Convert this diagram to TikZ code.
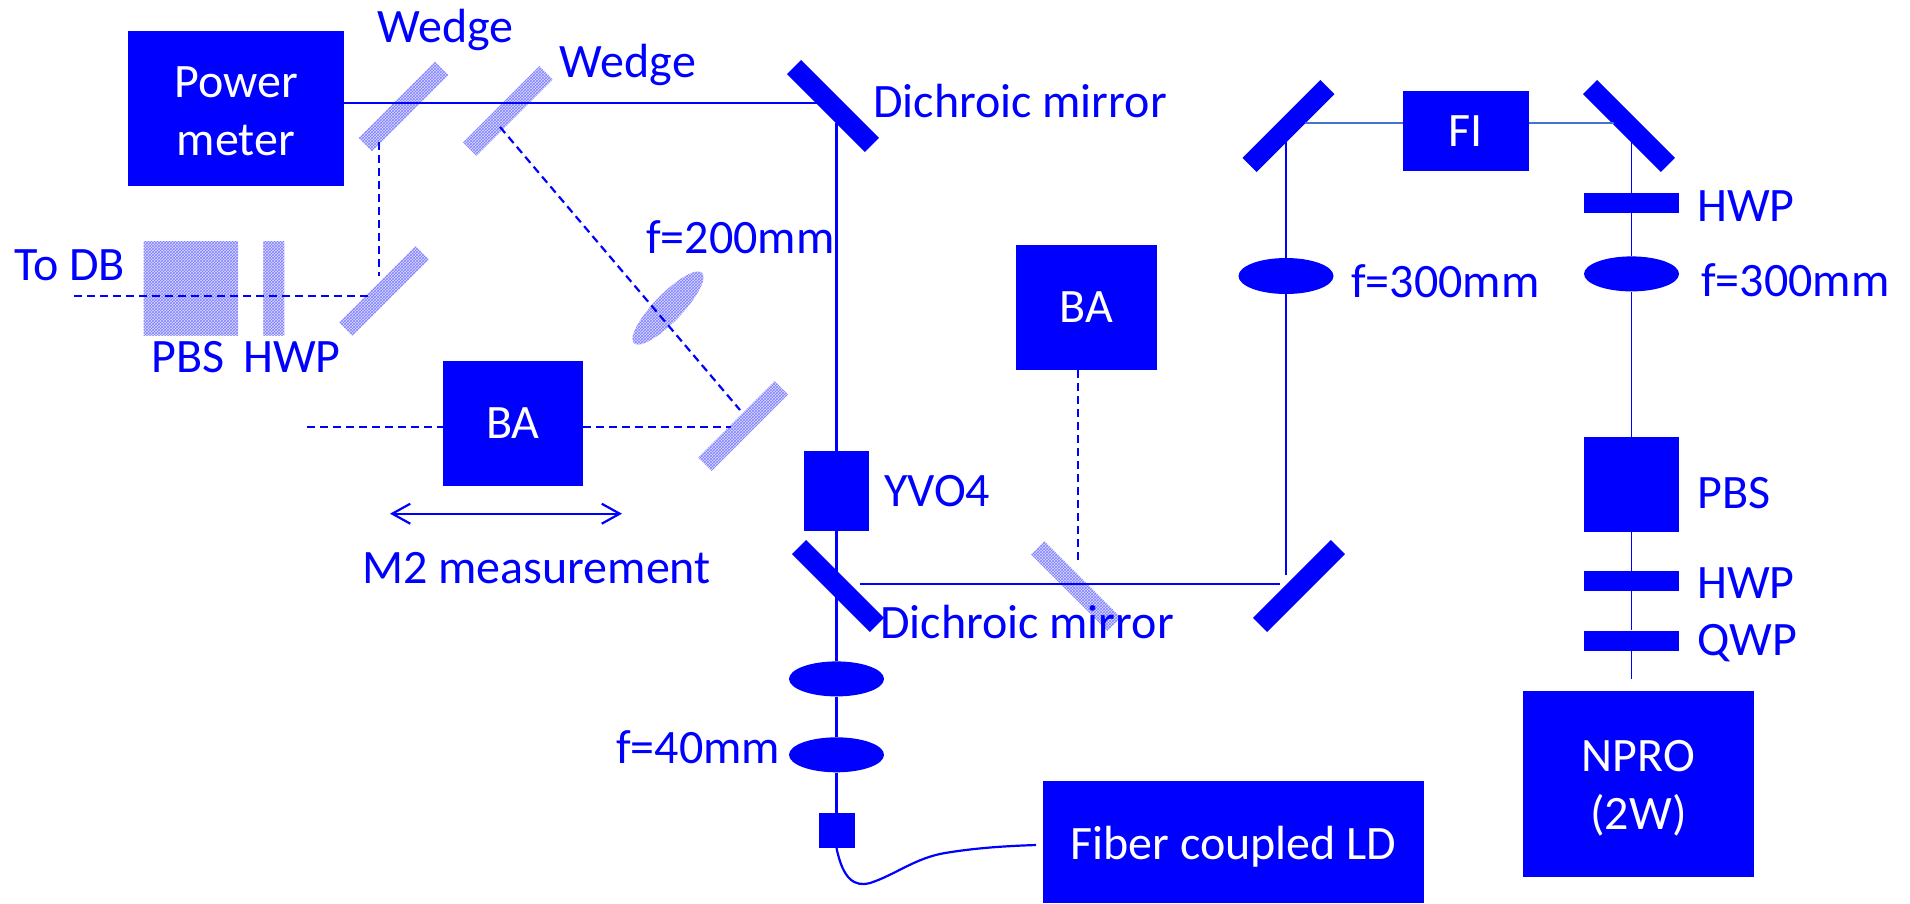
\documentclass[tikz,border=0pt]{standalone}
\usepackage{fontspec}
\setmainfont{Carlito}
\usepackage{xcolor}
\usepackage{tikz}
\usetikzlibrary{arrows.meta,positioning,patterns,shapes.geometric}
\definecolor{fibeam}{RGB}{70,115,205}

\begin{document}
\begin{tikzpicture}[x=1pt,y=-1pt,
  box/.style={fill=blue, text=white, inner sep=0pt, align=center, font=\fontsize{48}{58}\selectfont},
  lbl/.style={text=blue, inner sep=0pt, anchor=base west, font=\fontsize{48}{58}\selectfont},
  mirror/.style={fill=blue, inner sep=0pt, minimum width=110pt, minimum height=20pt},
  wedge/.style={preaction={fill=blue!14}, pattern=crosshatch, pattern color=blue!50, inner sep=0pt, minimum width=108pt, minimum height=19pt},
  lens/.style={ellipse, fill=blue, inner sep=0pt, minimum width=95pt, minimum height=35pt},
  plate/.style={fill=blue, inner sep=0pt, minimum width=95pt, minimum height=20pt},
  beam/.style={draw=blue, line width=2.2pt},
  dbeam/.style={draw=blue, line width=2.2pt, dash pattern=on 8pt off 5pt}
]
\useasboundingbox (0,0) rectangle (1910,903);

% left part
\node[box, minimum width=216pt, minimum height=155pt, text height=94pt] (pm) at (236,108.5) {Power\\meter};
\node[wedge, rotate=45] (wga) at (403.5,106.5) {};
\node[wedge, rotate=45] (wgb) at (508,111) {};
\node[wedge, rotate=45] (wgc) at (384,291) {};
\node[wedge, rotate=45] (wgd) at (743,426) {};
\node[wedge, minimum width=94.5pt, minimum height=94pt] (pbsa) at (190.75,288) {};
\node[wedge, minimum width=21pt, minimum height=94pt, right=25pt of pbsa] (hwpa) {};
\node[wedge, ellipse, rotate=46, minimum width=98pt, minimum height=28pt] (lensa) at (668,308) {};
\node[box, minimum width=140pt, minimum height=125pt] (baa) at (513,423.5) {BA};

% middle column
\node[mirror, rotate=-45] (dma) at (833,106) {};
\node[box, minimum width=65pt, minimum height=80pt] (yvo) at (836.5,491) {};
\node[mirror, rotate=-45] (dmb) at (838,586) {};
\node[lens, below=130pt of yvo] (lensb) {};
\node[lens, below=40.5pt of lensb] (lensc) {};
\node[box, minimum width=36pt, minimum height=35pt, below=40pt of lensc] (fc) {};
\node[box, minimum width=381pt, minimum height=122pt, text height=34pt, text depth=0pt] (ld) at (1233.5,842) {Fiber coupled LD};
\node[box, minimum width=141pt, minimum height=125pt] (bab) at (1086.5,307.5) {BA};
\node[wedge, rotate=-45] (wge) at (1076,586) {};

% right part
\node[mirror, rotate=45] (ma) at (1288.5,126) {};
\node[mirror, rotate=-45] (mb) at (1629,126) {};
\node[mirror, rotate=45] (mc) at (1299,586) {};
\node[box, minimum width=126pt, minimum height=80pt] (fi) at (1466,131) {FI};
\node[lens, minimum height=36pt] (lensd) at (1286,276) {};
\node[plate] (hwpb) at (1631.5,203) {};
\node[lens, below=43pt of hwpb] (lense) {};
\node[box, minimum width=95pt, minimum height=95pt, below=145pt of lense] (pbsb) {};
\node[plate, below=39pt of pbsb] (hwpc) {};
\node[plate, below=39pt of hwpc] (qwp) {};
\node[box, minimum width=231pt, minimum height=186pt, text height=97pt] (npro) at (1638.5,784) {NPRO\\(2W)};

% free ends of the beams
\coordinate (ina) at (818,103.3);
\coordinate (outa) at (836.5,123);
\coordinate (inb) at (860,584);
\coordinate (outb) at (1280,584);
\coordinate (tolens) at (1286,126);
\coordinate (outc) at (1286,575);
\coordinate (rtop) at (1631.5,126);
\coordinate (rbot) at (1631.5,679);
\coordinate (fiba) at (1036,845);
\coordinate (fibb) at (307,426.7);
\coordinate (fibc) at (731,426.7);
\coordinate (fia) at (1305,123);
\coordinate (fib) at (1614,123);

% beams
\draw[beam] (pm.east |- ina) -- (ina);
\draw[beam] (outa) -- (yvo.north);
\draw[beam] (yvo.south) -- (lensb.north);
\draw[beam] (lensb.south) -- (lensc.north);
\draw[beam] (lensc.south) -- (fc.north);
\draw[beam] (inb) -- (outb);
\draw[beam, line width=1.7pt] (tolens) -- (lensd.north);
\draw[beam, line width=1.7pt] (lensd.south) -- (outc);
\draw[beam, draw=fibeam] (fia) -- (fi.west |- fia);
\draw[beam, draw=fibeam] (fi.east |- fib) -- (fib);
\draw[beam, line width=1.7pt] (rtop) -- (hwpb.north);
\draw[beam, line width=1.7pt] (hwpb.south) -- (lense.north);
\draw[beam, line width=1.7pt] (lense.south) -- (pbsb.north);
\draw[beam, line width=1.7pt] (pbsb.south) -- (hwpc.north);
\draw[beam, line width=1.7pt] (hwpc.south) -- (qwp.north);
\draw[beam, line width=1.7pt] (qwp.south) -- (rbot);
\draw[beam] (fc.south) .. controls (843,880) and (855,887) .. (870,883) .. controls (895,875) and (915,858) .. (945,853) .. controls (975,848) and (1005,846) .. (fiba);

% pick-off beams
\coordinate (dba) at (74,295.7);
\coordinate (dbb) at (373,295.7);
\coordinate (dbc) at (379,142);
\coordinate (dbd) at (379,276);
\coordinate (dbe) at (500,127);
\coordinate (dbf) at (740,410);
\coordinate (dbg) at (1078,560);
\draw[dbeam] (dba) -- (dbb);
\draw[dbeam] (dbc) -- (dbd);
\draw[dbeam] (dbe) -- (dbf);
\draw[dbeam] (fibb) -- (baa.west |- fibb);
\draw[dbeam] (baa.east |- fibc) -- (fibc);
\draw[dbeam] (bab.south -| dbg) -- (dbg);

% translation range
\coordinate (ra) at (390,513.7);
\coordinate (rb) at (622,513.7);
\draw[beam, {Straight Barb[length=18pt,width=20pt]}-{Straight Barb[length=18pt,width=20pt]}] (ra) -- (rb);

% labels
\node[lbl] (l1) at (377,42) {Wedge};
\node[lbl] (l2) at (559.5,77.5) {Wedge};
\node[lbl] (l3) at (14,280) {To DB};
\node[lbl] (l4) at (151,372) {PBS};
\node[lbl] (l5) at (243,372) {HWP};
\node[lbl] (l6) at (646,253) {f=200mm};
\node[lbl] (l7) at (873,117) {Dichroic mirror};
\node[lbl] (l8) at (880,638) {Dichroic mirror};
\node[lbl] (l9) at (884,506) {YVO4};
\node[lbl] (l10) at (616,763) {f=40mm};
\node[lbl] (l11) at (362,583) {M2 measurement};
\node[lbl] (l12) at (1351,297) {f=300mm};
\node[lbl] (l13) at (1701,296) {f=300mm};
\node[lbl] (l14) at (1697,221) {HWP};
\node[lbl] (l15) at (1697,508) {PBS};
\node[lbl] (l16) at (1697,598) {HWP};
\node[lbl] (l17) at (1697,655) {QWP};
\end{tikzpicture}
\end{document}
